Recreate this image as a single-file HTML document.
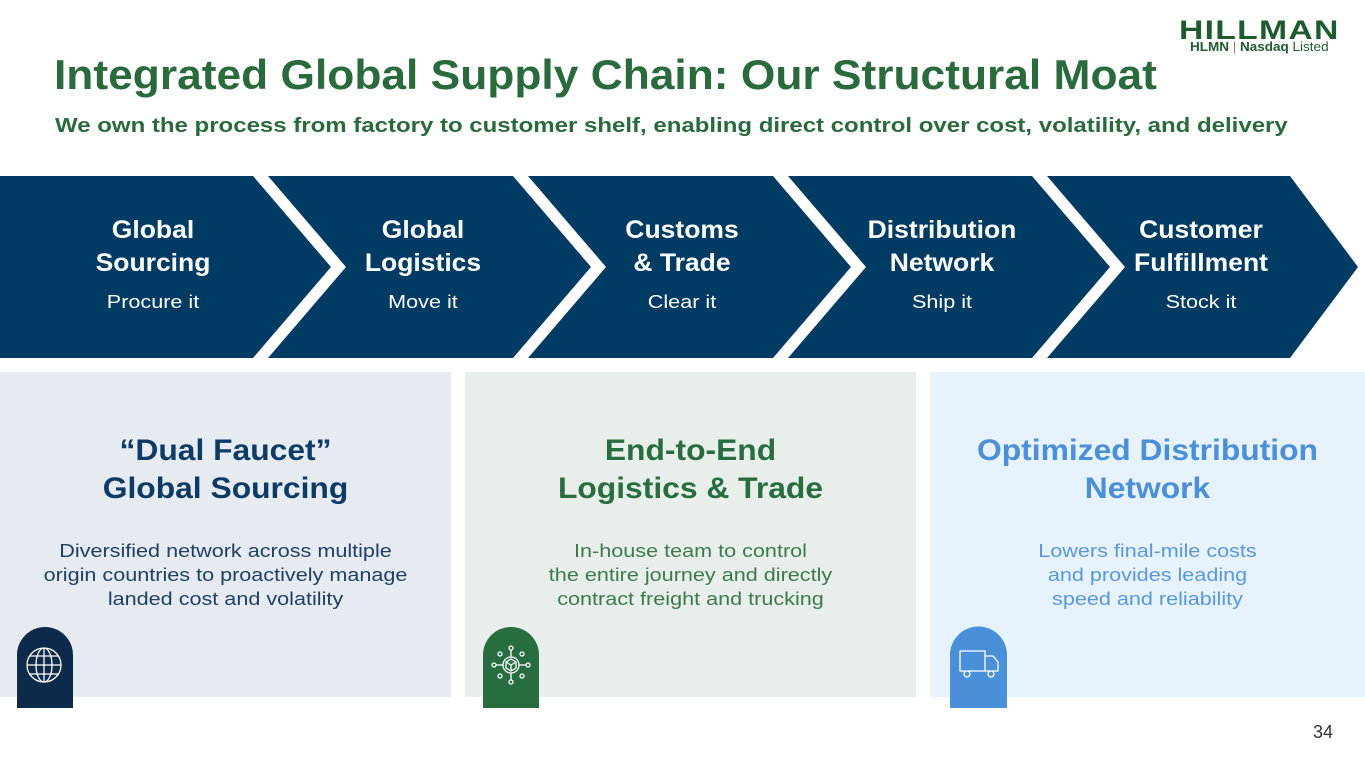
<!DOCTYPE html>
<html><head><meta charset="utf-8"><style>
body{margin:0;width:1365px;height:762px;background:#fff;position:relative;overflow:hidden;font-family:"Liberation Sans",sans-serif}
.a{position:absolute;white-space:nowrap}
.t{position:absolute;text-align:center;white-space:nowrap}
.b{transform:scaleX(1.06)}
.l{transform:scaleX(1.2)}
</style></head><body>
<div class="a" style="left:54px;top:51px;font-size:42px;font-weight:bold;color:#2a6a3c;transform:scaleX(1.055);transform-origin:left">Integrated Global Supply Chain: Our Structural Moat</div>
<div class="a" style="left:55px;top:115px;font-size:20px;font-weight:bold;color:#2a6a3c;transform:scaleX(1.2);transform-origin:left">We own the process from factory to customer shelf, enabling direct control over cost, volatility, and delivery</div>
<div class="a" style="left:1179px;top:15px;font-size:27px;font-weight:900;color:#1f5a30;letter-spacing:1px;transform:scaleX(1.25);transform-origin:left">HILLMAN</div>
<div class="a" style="left:1190px;top:40px;font-size:12.5px;color:#1f5a30;transform:scaleX(1.08);transform-origin:left"><b>HLMN</b> <span style="color:#888">|</span> <b>Nasdaq</b> Listed</div>

<svg class="a" style="left:0;top:0" width="1365" height="762">
<g fill="#003b64">
<polygon points="0,176 253,176 331,267 253,358 0,358"/>
<polygon points="268,176 513,176 591,267 513,358 268,358 346,267"/>
<polygon points="528,176 773,176 851,267 773,358 528,358 606,267"/>
<polygon points="788,176 1032,176 1110,267 1032,358 788,358 866,267"/>
<polygon points="1047,176 1290,176 1358,267 1290,358 1047,358 1125,267"/>
</g>
<rect x="0" y="372" width="451" height="325" fill="#e5ebf0"/>
<rect x="465" y="372" width="451" height="325" fill="#e8eee9"/>
<rect x="930" y="372" width="435" height="325" fill="#e6f2fc"/>
<path d="M17,708 V655 a28,28 0 0 1 56,0 V708Z" fill="#0e2a4a"/>
<path d="M483,708 V655 a28,28 0 0 1 56,0 V708Z" fill="#276d3f"/>
<path d="M950,708 V655 a28,28 0 0 1 57,0 V708Z" fill="#4a90d9"/>
<g stroke="#fff" stroke-width="1.3" fill="none">
<circle cx="44" cy="665" r="17"/><ellipse cx="44" cy="665" rx="8" ry="17"/><line x1="44" y1="648" x2="44" y2="682"/><line x1="27" y1="665" x2="61" y2="665"/><line x1="29" y1="656" x2="59" y2="656"/><line x1="29" y1="674" x2="59" y2="674"/>
<circle cx="511" cy="665" r="8"/><path d="M506,662 l5,-3 5,3 v6 l-5,3 -5,-3z M506,662 l5,3 5,-3 M511,665 v6"/>
<g><line x1="511" y1="657" x2="511" y2="650"/><circle cx="511" cy="648" r="2"/><line x1="511" y1="673" x2="511" y2="680"/><circle cx="511" cy="682" r="2"/><line x1="503" y1="665" x2="496" y2="665"/><circle cx="494" cy="665" r="2"/><line x1="519" y1="665" x2="526" y2="665"/><circle cx="528" cy="665" r="2"/><circle cx="500" cy="654" r="2"/><circle cx="522" cy="654" r="2"/><circle cx="500" cy="676" r="2"/><circle cx="522" cy="676" r="2"/></g>
<path d="M960,651 h25 v20 h-25z M985,656 h8 l5,6 v9 h-13"/><circle cx="967" cy="674" r="3" fill="#4a90d9"/><circle cx="991" cy="674" r="3" fill="#4a90d9"/>
</g>
</svg>

<div class="t b" style="left:0;width:306px;top:214px;color:#fff;font-size:25px;font-weight:bold;line-height:33px">Global<br>Sourcing</div>
<div class="t l" style="left:0;width:306px;top:292px;color:#fff;font-size:18px">Procure it</div>
<div class="t b" style="left:268px;width:310px;top:214px;color:#fff;font-size:25px;font-weight:bold;line-height:33px">Global<br>Logistics</div>
<div class="t l" style="left:268px;width:310px;top:292px;color:#fff;font-size:18px">Move it</div>
<div class="t b" style="left:528px;width:308px;top:214px;color:#fff;font-size:25px;font-weight:bold;line-height:33px">Customs<br>&amp; Trade</div>
<div class="t l" style="left:528px;width:308px;top:292px;color:#fff;font-size:18px">Clear it</div>
<div class="t b" style="left:788px;width:308px;top:214px;color:#fff;font-size:25px;font-weight:bold;line-height:33px">Distribution<br>Network</div>
<div class="t l" style="left:788px;width:308px;top:292px;color:#fff;font-size:18px">Ship it</div>
<div class="t b" style="left:1047px;width:308px;top:214px;color:#fff;font-size:25px;font-weight:bold;line-height:33px">Customer<br>Fulfillment</div>
<div class="t l" style="left:1047px;width:308px;top:292px;color:#fff;font-size:18px">Stock it</div>

<div class="t b" style="left:0;width:451px;top:432px;color:#0e3a66;font-size:30px;font-weight:bold;line-height:38px">“Dual Faucet”<br>Global Sourcing</div>
<div class="t l" style="left:0;width:451px;top:539px;color:#1f3f66;font-size:18px;line-height:24px">Diversified network across multiple<br>origin countries to proactively manage<br>landed cost and volatility</div>
<div class="t b" style="left:465px;width:451px;top:432px;color:#276d3f;font-size:30px;font-weight:bold;line-height:38px">End-to-End<br>Logistics &amp; Trade</div>
<div class="t l" style="left:465px;width:451px;top:539px;color:#3b7a50;font-size:18px;line-height:24px">In-house team to control<br>the entire journey and directly<br>contract freight and trucking</div>
<div class="t b" style="left:930px;width:435px;top:432px;color:#4a8fd8;font-size:30px;font-weight:bold;line-height:38px">Optimized Distribution<br>Network</div>
<div class="t l" style="left:930px;width:435px;top:539px;color:#5a98dc;font-size:18px;line-height:24px">Lowers final-mile costs<br>and provides leading<br>speed and reliability</div>
<div class="a" style="left:1313px;top:722px;font-size:18px;color:#333">34</div>
</body></html>
